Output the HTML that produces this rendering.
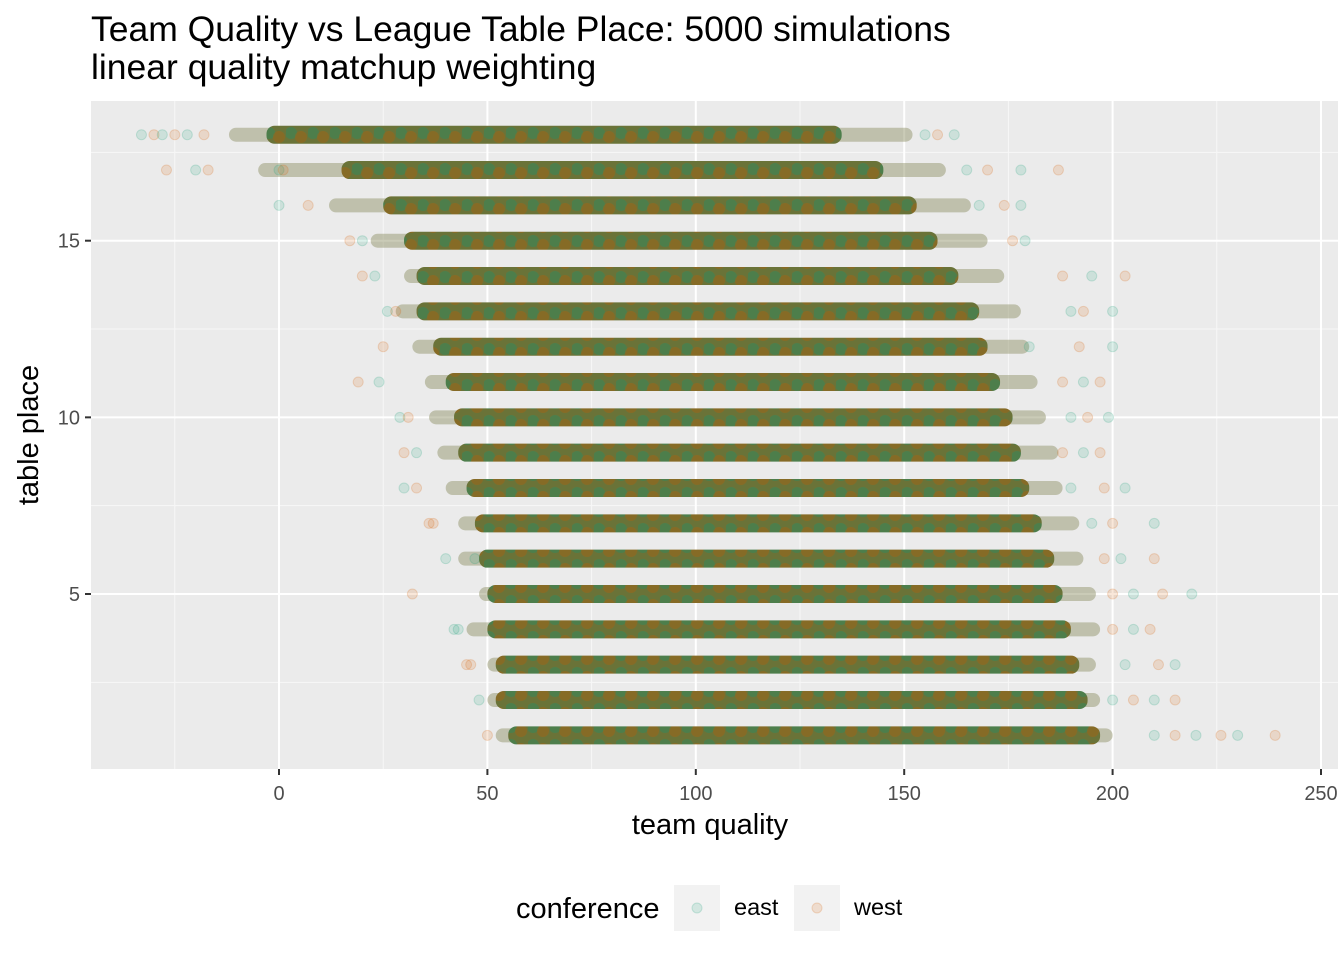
<!DOCTYPE html>
<html><head><meta charset="utf-8"><style>
body{margin:0;background:#fff;font-family:"Liberation Sans",sans-serif}
</style></head><body>
<svg id="c" width="1344" height="960" xmlns="http://www.w3.org/2000/svg">
<text x="91" y="41" font-size="35.5" fill="#000">Team Quality vs League Table Place: 5000 simulations</text>
<text x="91" y="79" font-size="35.5" fill="#000">linear quality matchup weighting</text>
<rect x="91" y="101" width="1247" height="668" fill="#ebebeb"/>
<g id="grid"></g><g id="marks"></g><g id="axes"></g>
<text x="710" y="834" font-size="29" text-anchor="middle">team quality</text>
<text transform="translate(38,435) rotate(-90)" font-size="29" text-anchor="middle">table place</text>
<g>
<text x="516" y="918" font-size="29">conference</text>
<rect x="674" y="885" width="46" height="46" fill="#f2f2f2"/>
<circle cx="697" cy="908" r="5" fill="#1b9e77" fill-opacity="0.15" stroke="#1b9e77" stroke-opacity="0.2"/>
<text x="734" y="915" font-size="23.5">east</text>
<rect x="794" y="885" width="46" height="46" fill="#f2f2f2"/>
<circle cx="817" cy="908" r="5" fill="#d95f02" fill-opacity="0.15" stroke="#d95f02" stroke-opacity="0.2"/>
<text x="854" y="915" font-size="23.5">west</text>
</g>
</svg>
<script>
const places=[18,17,16,15,14,13,12,11,10,9,8,7,6,5,4,3,2,1];
const coreMin=[-3,15,25,30,33,33,37,40,42,43,45,47,48,50,50,52,52,55];
const coreMax=[135,145,153,158,163,168,170,173,176,178,180,183,186,188,190,192,194,197];
const tailMin=[-12,-5,12,22,30,28,32,35,36,38,40,43,43,48,45,50,50,52];
const tailMax=[152,160,166,170,174,178,180,182,184,187,188,192,193,196,197,196,197,200];
const outQ=[-33,-30,-28,-25,-22,-18,155,158,162,-27,-20,-17,0,1,165,170,178,187,0,7,168,174,178,17,20,176,179,20,23,188,195,203,26,28,190,193,200,25,180,192,200,19,24,188,193,197,29,31,190,194,199,30,33,188,193,197,30,33,190,198,203,36,195,200,210,37,40,198,202,210,47,200,205,212,219,32,42,200,205,209,43,46,203,211,215,45,200,205,210,215,48,50,210,215,220,226,230,239];
const outP=[18,18,18,18,18,18,18,18,18,17,17,17,17,17,17,17,17,17,16,16,16,16,16,15,15,15,15,14,14,14,14,14,13,13,13,13,13,12,12,12,12,11,11,11,11,11,10,10,10,10,10,9,9,9,9,9,8,8,8,8,8,7,7,7,7,7,6,6,6,6,6,5,5,5,5,5,4,4,4,4,4,3,3,3,3,3,2,2,2,2,2,1,1,1,1,1,1,1,1];
const outC=outQ.map((_,i)=>i%2?'west':'east');
const xTicks=[0,50,100,150,200,250];
const yTicks=[5,10,15];
const X=v=>279+v*4.168, Y=v=>594-(v-5)*35.33;
const NS='http://www.w3.org/2000/svg';
function mk(t,a,p){const e=document.createElementNS(NS,t);for(const k in a)e.setAttribute(k,a[k]);p.appendChild(e);return e;}
const grid=document.getElementById('grid'),marks=document.getElementById('marks'),axes=document.getElementById('axes');
const defs=mk('defs',{},document.getElementById('c'));
[-25,25,75,125,175,225].forEach(v=>{const l=mk('line',{x1:X(v),x2:X(v),y1:101,y2:769,stroke:'#f7f7f7','stroke-width':1},grid);

});
[2.5,7.5,12.5,17.5].forEach(v=>{const l=mk('line',{x1:91,x2:1338,y1:Y(v),y2:Y(v),stroke:'#f7f7f7','stroke-width':1},grid);

});
xTicks.forEach(v=>{const l=mk('line',{x1:X(v),x2:X(v),y1:101,y2:769,stroke:'#fff','stroke-width':2},grid);


const t=mk('line',{x1:X(v),x2:X(v),y1:769,y2:775,stroke:'#333','stroke-width':2},axes);


const tx=mk('text',{x:X(v),y:800,'font-size':20,fill:'#4d4d4d','text-anchor':'middle'},axes);tx.textContent=v;

});
yTicks.forEach(v=>{const l=mk('line',{x1:91,x2:1338,y1:Y(v),y2:Y(v),stroke:'#fff','stroke-width':2},grid);


const t=mk('line',{x1:85,x2:91,y1:Y(v),y2:Y(v),stroke:'#333','stroke-width':2},axes);


const tx=mk('text',{x:80,y:Y(v)+7,'font-size':20,fill:'#4d4d4d','text-anchor':'end'},axes);tx.textContent=v;

});
const pat=mk('pattern',{id:'mix',width:22,height:18,patternUnits:'userSpaceOnUse'},defs);
mk('rect',{width:22,height:18,fill:'#6a7338'},pat);
mk('circle',{cx:5,cy:7,r:6,fill:'#2f8a5e','fill-opacity':0.5},pat);
mk('circle',{cx:15,cy:11,r:6,fill:'#a8620f','fill-opacity':0.45},pat);
places.forEach((p,i)=>{const y=Y(p);
const tl=mk('rect',{x:X(tailMin[i]),y:y-7,width:X(tailMax[i])-X(tailMin[i]),height:14,rx:7,fill:'#8a8c60','fill-opacity':0.45},marks);


const r=mk('rect',{x:X(coreMin[i]),y:y-9,width:X(coreMax[i])-X(coreMin[i]),height:18,rx:8,fill:'url(#mix)'},marks);

});
outQ.forEach((q,i)=>{const col=outC[i]==='east'?'#1b9e77':'#d95f02';
const c=mk('circle',{cx:X(q),cy:Y(outP[i]),r:5,fill:col,'fill-opacity':0.15,stroke:col,'stroke-opacity':0.2},marks);

});
</script>
</body></html>
